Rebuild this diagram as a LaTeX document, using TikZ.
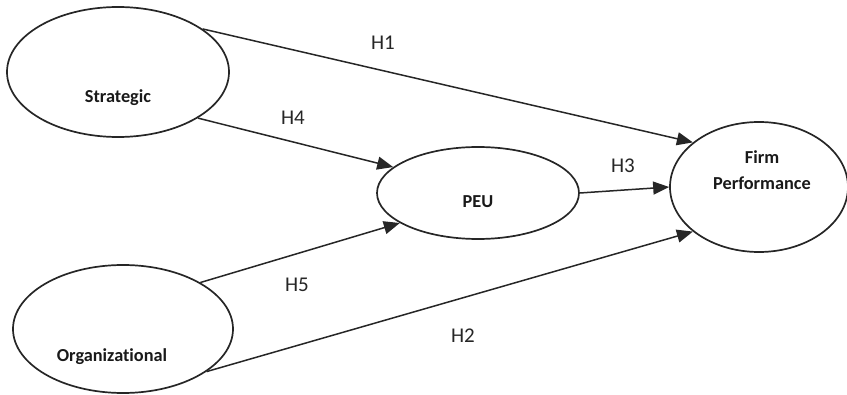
\documentclass[tikz,border=0pt]{standalone}
\usepackage{fontspec}
\setmainfont{Carlito}[Ligatures=NoCommon]
\usetikzlibrary{shapes.geometric,arrows.meta}
\begin{document}
\begin{tikzpicture}[x=1pt,y=-1pt,
  construct/.style={draw=black!85,line width=1.7pt,ellipse,inner sep=0pt},
  caption/.style={font=\fontsize{18.3}{26}\selectfont\bfseries,text=black!90,align=center,inner sep=0pt,anchor=base},
  hyp/.style={font=\fontsize{21}{24}\selectfont,text=black!85,inner sep=0pt,anchor=base},
  link/.style={draw=black!85,line width=1.5pt,-{Triangle[length=16pt,width=13pt]}}]
\useasboundingbox (0,0) rectangle (847,395);

% constructs
\node[construct,minimum width=222pt,minimum height=130pt] (strat) at (118,72) {};
\node[construct,minimum width=220pt,minimum height=128pt] (org) at (123,329) {};
\node[construct,minimum width=202pt,minimum height=92pt] (peu) at (478,193) {};
\node[construct,minimum width=178pt,minimum height=130pt] (firm) at (759,187) {};

% construct names (base anchor sits on the last line)
\node[caption] (stratname) at (118,103) {Strategic};
\node[caption] (orgname) at (112,362) {Organizational};
\node[caption] (peuname) at (478,208) {PEU};
\node[caption] (firmname) at (762,190) {Firm\\Performance};

% hypothesised paths
\draw[link] (strat.27) -- (firm.146);
\draw[link] (strat.-30) -- (peu.163.6);
\draw[link] (org.31.4) -- (peu.201);
\draw[link] (org.-27.7) -- (firm.214.9);
\draw[link] (peu.east) -- (firm.west);

% path labels
\node[hyp] (h1) at (383,50) {H1};
\node[hyp] (h4) at (293,125) {H4};
\node[hyp] (h3) at (623,173) {H3};
\node[hyp] (h5) at (297,292) {H5};
\node[hyp] (h2) at (463,343) {H2};
\end{tikzpicture}
\end{document}
